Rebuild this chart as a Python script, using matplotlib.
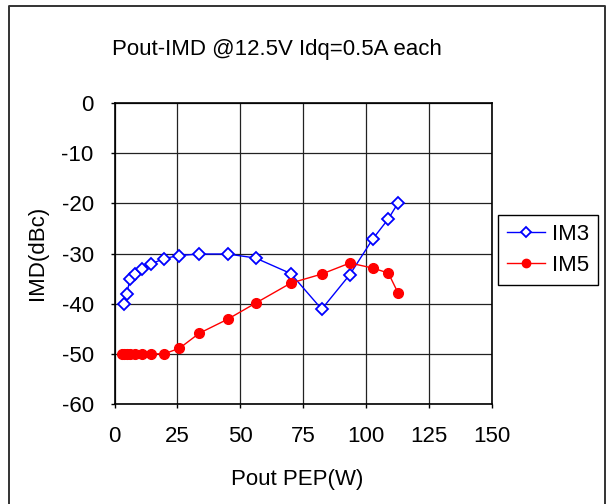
import matplotlib
matplotlib.use("Agg")
import matplotlib.pyplot as plt
from matplotlib.lines import Line2D

plt.rcParams["font.family"] = ["Liberation Sans", "DejaVu Sans"]
plt.rcParams["axes.unicode_minus"] = False

# Pout PEP (W) vs IMD (dBc)
im3_x = [3.8, 4.9, 6.2, 8.3, 11.1, 14.5, 19.7, 25.8, 33.7, 45.0, 56.1,
         70.1, 82.4, 93.6, 102.7, 108.9, 112.8]
im3_y = [-40.0, -38.0, -35.0, -34.1, -33.0, -32.1, -31.0, -30.4, -30.1, -30.1,
         -30.9, -34.0, -41.1, -34.2, -27.1, -23.1, -19.9]

im5_x = [2.9, 3.8, 4.9, 6.2, 8.3, 11.1, 14.5, 19.7, 25.8, 33.7, 45.0, 56.1,
         70.1, 82.4, 93.6, 102.7, 108.9, 112.8]
im5_y = [-50.0, -50.0, -50.0, -50.0, -50.0, -50.0, -50.0, -50.0, -48.9, -45.9,
         -43.1, -39.9, -35.9, -34.1, -31.9, -32.9, -33.9, -37.9]

x_ticks = [0, 25, 50, 75, 100, 125, 150]
y_ticks = [0, -10, -20, -30, -40, -50, -60]

W, H = 614, 504
FS = 16
BLUE, RED = "#0000FF", "#FF0000"

fig = plt.figure(figsize=(W / 100, H / 100), dpi=100)
ax = fig.add_axes([114.5 / W, 1 - 404 / H, (491.7 - 114.5) / W, (404 - 103) / H])

ax.plot(im3_x, im3_y, color=BLUE, lw=1.0, marker="D", ms=6, mfc="white",
        mec=BLUE, mew=1.3, zorder=3)
ax.plot(im5_x, im5_y, color=RED, lw=1.0, marker="o", ms=7, mfc=RED,
        mec=RED, zorder=3)

ax.set_xlim(0, 150)
ax.set_ylim(-60, 0)
ax.set_xticks(x_ticks)
ax.set_yticks(y_ticks)
ax.tick_params(labelsize=FS, length=3, width=1, direction="out")
ax.tick_params(axis="x", pad=13)
ax.tick_params(axis="y", pad=12)
ax.grid(True, color="#222222", lw=0.9)
ax.set_axisbelow(True)
for s in ax.spines.values():
    s.set_linewidth(1.2)
    s.set_color("black")

fig.text(276.5 / W, 1 - 50 / H, "Pout-IMD @12.5V Idq=0.5A each",
         ha="center", va="center", fontsize=FS)
fig.text(297 / W, 1 - 479 / H, "Pout PEP(W)", ha="center", va="center",
         fontsize=FS)
fig.text(38 / W, 1 - 253 / H, "IMD(dBc)", ha="center", va="center",
         rotation=90, fontsize=FS)

leg = fig.legend(handles=[
    Line2D([], [], color=BLUE, lw=1, marker="D", ms=5.5, mfc="white", mec=BLUE,
           mew=1.3, label="IM3"),
    Line2D([], [], color=RED, lw=1, marker="o", ms=6, mfc=RED, mec=RED,
           label="IM5"),
], loc="upper left", bbox_to_anchor=(498.3 / W, 1 - 215 / H), fontsize=FS,
    fancybox=False, framealpha=1, edgecolor="black", handlelength=1.7,
    handletextpad=0.3, borderpad=0.4, labelspacing=0.45, borderaxespad=0)
leg.get_frame().set_linewidth(1.0)

# outer border of the chart area (left, top, right)
border = Line2D([8.5 / W, 8.5 / W, 605 / W, 605 / W],
                [0, 1 - 5.5 / H, 1 - 5.5 / H, 0],
                transform=fig.transFigure, color="#333333", lw=1.4)
fig.add_artist(border)

fig.savefig("out.png", dpi=100)
